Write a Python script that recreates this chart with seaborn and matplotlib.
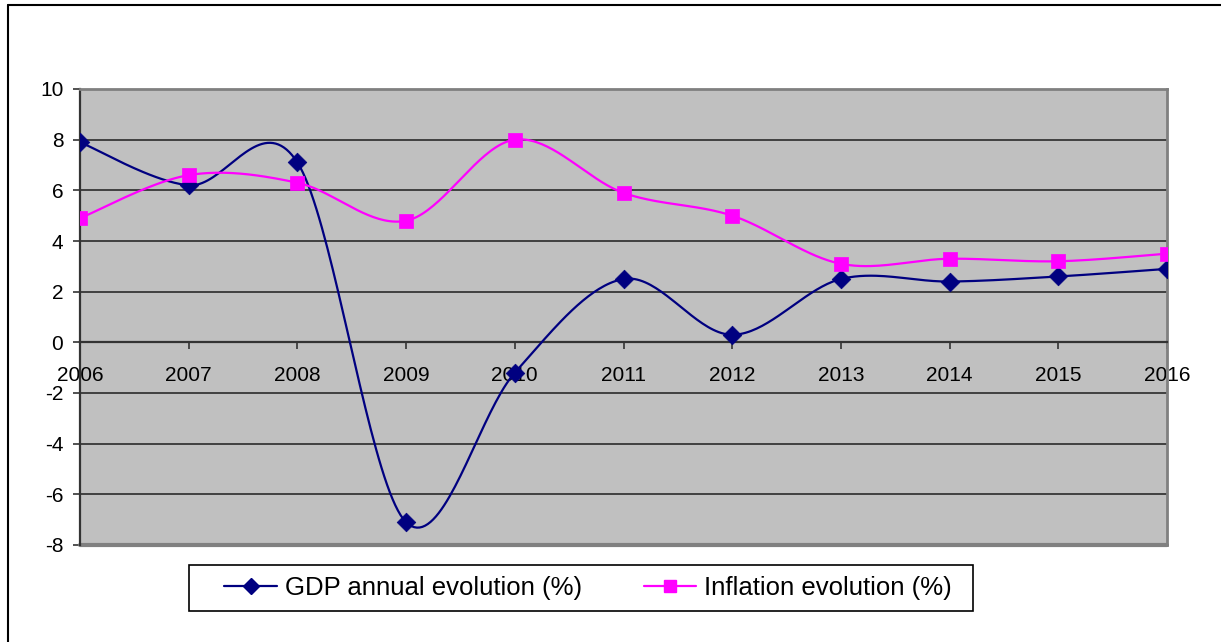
import numpy as np
import pandas as pd
import matplotlib
matplotlib.use("Agg")
import matplotlib.pyplot as plt
from matplotlib.lines import Line2D
from matplotlib.patches import Rectangle
import seaborn as sns

years = [2006, 2007, 2008, 2009, 2010, 2011, 2012, 2013, 2014, 2015, 2016]
gdp = [7.9, 6.2, 7.1, -7.1, -1.2, 2.5, 0.3, 2.5, 2.4, 2.6, 2.9]
inflation = [4.9, 6.6, 6.3, 4.8, 8.0, 5.9, 5.0, 3.1, 3.3, 3.2, 3.5]
y_ticks = [-8, -6, -4, -2, 0, 2, 4, 6, 8, 10]

GDP_LABEL = "GDP annual evolution (%)"
INF_LABEL = "Inflation evolution (%)"
NAVY = "#000080"
MAGENTA = "#FF00FF"

W, H = 1221, 642


def smooth_curve(xs, ys, steps=40):
    """Cubic Bezier path through the points (spreadsheet-style smoothed line)."""
    xs = np.asarray(xs, float)
    ys = np.asarray(ys, float)
    px = np.concatenate([[xs[0]], xs, [xs[-1]]])
    py = np.concatenate([[ys[0]], ys, [ys[-1]]])
    out_x, out_y = [], []
    t = np.linspace(0, 1, steps, endpoint=False)
    for i in range(1, len(px) - 2):
        p0 = np.array([px[i], py[i]])
        p3 = np.array([px[i + 1], py[i + 1]])
        c1 = p0 + (np.array([px[i + 1], py[i + 1]]) - np.array([px[i - 1], py[i - 1]])) / 6
        c2 = p3 - (np.array([px[i + 2], py[i + 2]]) - np.array([px[i], py[i]])) / 6
        b = ((1 - t) ** 3)[:, None] * p0 + (3 * (1 - t) ** 2 * t)[:, None] * c1 \
            + (3 * (1 - t) * t ** 2)[:, None] * c2 + (t ** 3)[:, None] * p3
        out_x.extend(b[:, 0])
        out_y.extend(b[:, 1])
    out_x.append(xs[-1])
    out_y.append(ys[-1])
    return np.array(out_x), np.array(out_y)


sns.set_style("white")
plt.rcParams["font.family"] = ["Liberation Sans", "DejaVu Sans"]
plt.rcParams["text.color"] = "black"

fig = plt.figure(figsize=(W / 100, H / 100), dpi=100)
ax = fig.add_axes([80 / W, 1 - 545 / H, 1087 / W, 456 / H])
ax.set_facecolor("#C0C0C0")

points = pd.DataFrame({"year": years, "gdp": gdp, "inflation": inflation})

gx, gy = smooth_curve(years, gdp)
ix, iy = smooth_curve(years, inflation)
curves = pd.DataFrame({"x": np.concatenate([gx, ix]),
                       "y": np.concatenate([gy, iy]),
                       "series": [GDP_LABEL] * len(gx) + [INF_LABEL] * len(ix)})

sns.lineplot(data=curves, x="x", y="y", hue="series", sort=False, estimator=None,
             palette={GDP_LABEL: NAVY, INF_LABEL: MAGENTA}, linewidth=1.6,
             legend=False, ax=ax, zorder=3)
sns.scatterplot(data=points, x="year", y="gdp", marker="D", s=90, color=NAVY,
                edgecolor=NAVY, linewidth=0.5, ax=ax, zorder=4)
sns.scatterplot(data=points, x="year", y="inflation", marker="s", s=90, color=MAGENTA,
                edgecolor=MAGENTA, linewidth=0.5, ax=ax, zorder=5)

ax.set_xlim(2006, 2016)
ax.set_ylim(-8, 10)
ax.set_xticks(years)
ax.set_xticklabels([str(y) for y in years])
ax.set_yticks(y_ticks)
ax.set_yticklabels([str(v) for v in y_ticks])
ax.set_xlabel("")
ax.set_ylabel("")

# horizontal gridlines
for v in y_ticks:
    ax.axhline(v, color="#404040", linewidth=1.4, zorder=1)

# frame of the plot area
for side in ["top", "right"]:
    ax.spines[side].set_color("#808080")
    ax.spines[side].set_linewidth(2)
ax.spines["left"].set_color("#333333")
ax.spines["left"].set_linewidth(1.6)
ax.spines["bottom"].set_position(("data", 0))
ax.spines["bottom"].set_color("#333333")
ax.spines["bottom"].set_linewidth(1.6)
ax.axhline(-8, color="#808080", linewidth=3, zorder=2, clip_on=False)

ax.tick_params(axis="x", direction="out", length=5, width=1.2, color="#333333",
               labelsize=15, labelcolor="black", pad=12, bottom=True)
ax.tick_params(axis="y", direction="out", length=5, width=1.2, color="#333333",
               labelsize=15, labelcolor="black", pad=7, left=True)

# legend box and entries
fig.add_artist(Rectangle((189 / W, 1 - 611 / H), (973 - 189) / W, 46 / H,
                         transform=fig.transFigure, facecolor="white",
                         edgecolor="black", linewidth=1.2, zorder=5))
handles = [
    Line2D([0], [0], color=NAVY, linewidth=1.6, marker="D", markersize=8),
    Line2D([0], [0], color=MAGENTA, linewidth=1.6, marker="s", markersize=8),
]
leg = fig.legend(handles, [GDP_LABEL, INF_LABEL], ncol=2, loc="center",
                 bbox_to_anchor=(588 / W, 1 - 588 / H), fontsize=18.5,
                 frameon=False, handlelength=2.05, columnspacing=2.4,
                 handletextpad=0.3, borderpad=0.2)
leg.set_zorder(6)

# outer chart border
fig.add_artist(Line2D([8 / W, 8 / W], [0, 1 - 5 / H], transform=fig.transFigure,
                      color="black", linewidth=1.5))
fig.add_artist(Line2D([8 / W, 1.0], [1 - 5 / H, 1 - 5 / H], transform=fig.transFigure,
                      color="black", linewidth=1.5))

fig.savefig("out.png", dpi=100, facecolor="white")
